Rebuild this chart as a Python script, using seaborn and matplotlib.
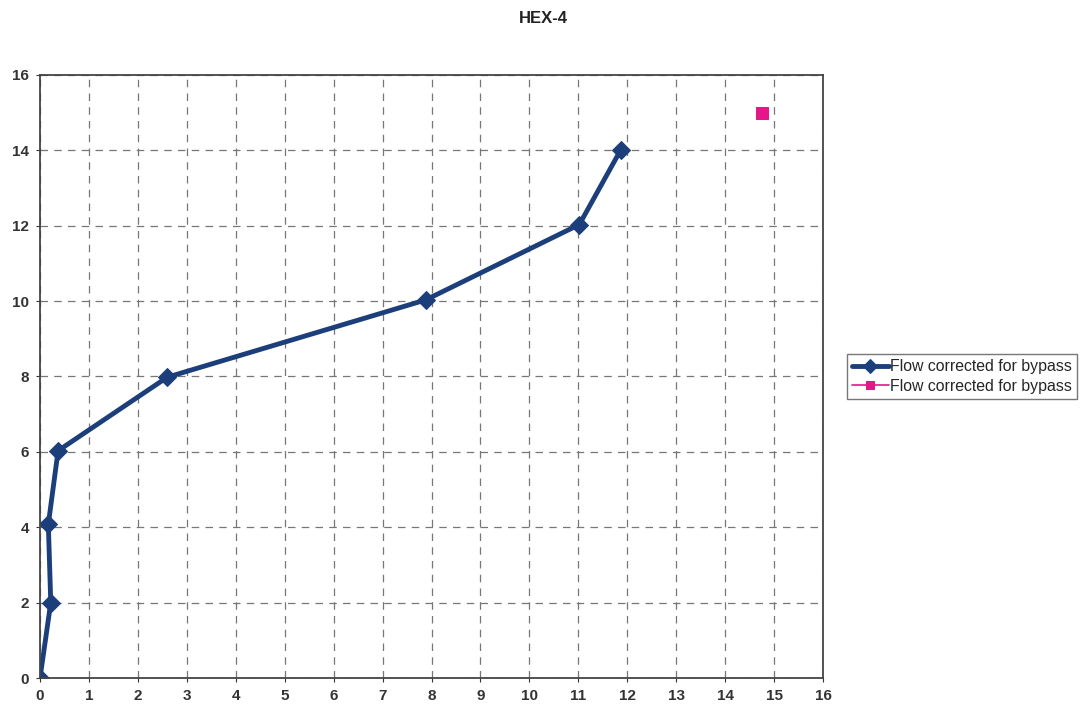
import pandas as pd
import seaborn as sns
import matplotlib.pyplot as plt

# Flow corrected for bypass (blue series)
x_flow = [0.0, 0.22, 0.17, 0.37, 2.6, 7.88, 11.02, 11.87]
y_flow = [0.0, 2.0, 4.08, 6.03, 7.98, 10.03, 12.03, 14.02]

# second series, single point
x_pink = [14.76]
y_pink = [15.0]

label = 'Flow corrected for bypass'

sns.set_style('white')
plt.rcParams['font.family'] = ['Liberation Sans', 'DejaVu Sans']

fig = plt.figure(figsize=(10.87, 7.13), dpi=100)
ax = fig.add_axes([0.0368, 0.049, 0.7204, 0.846])

df_flow = pd.DataFrame({'x': x_flow, 'y': y_flow})
df_pink = pd.DataFrame({'x': x_pink, 'y': y_pink})

sns.lineplot(data=df_flow, x='x', y='y', sort=False, ax=ax, color='#1c3f7c',
             linewidth=3.5, marker='D', markersize=9.5, markeredgecolor='#1c3f7c',
             label=label)
sns.lineplot(data=df_pink, x='x', y='y', sort=False, ax=ax, color='#e5168a',
             linewidth=1.2, marker='s', markersize=8, markeredgecolor='#e5168a',
             label=label)

ax.set_xlim(0, 16)
ax.set_ylim(0, 16)
ax.set_xticks(range(0, 17))
ax.set_yticks(range(0, 17, 2))
ax.set_xlabel('')
ax.set_ylabel('')
ax.grid(True, linestyle=(0, (6, 5)), color='#777777', linewidth=0.9)
ax.tick_params(axis='both', labelsize=11, colors='#333333', length=3,
               direction='out', left=True, bottom=True, pad=5)
for lbl in ax.get_xticklabels() + ax.get_yticklabels():
    lbl.set_fontweight('bold')
for s in ax.spines.values():
    s.set_color('#444444')
    s.set_linewidth(1.3)

leg = ax.legend(loc='center left', bbox_to_anchor=(1.031, 0.5), frameon=True,
                fancybox=False, edgecolor='#555555', fontsize=11.4,
                handlelength=2.3, handletextpad=0.1, borderpad=0.3,
                labelspacing=0.3, borderaxespad=0, markerscale=0.8)

fig.suptitle('HEX-4', x=0.5, y=0.985, fontsize=12, fontweight='bold', color='#222222')

plt.savefig('out.png', dpi=100)
plt.close()
